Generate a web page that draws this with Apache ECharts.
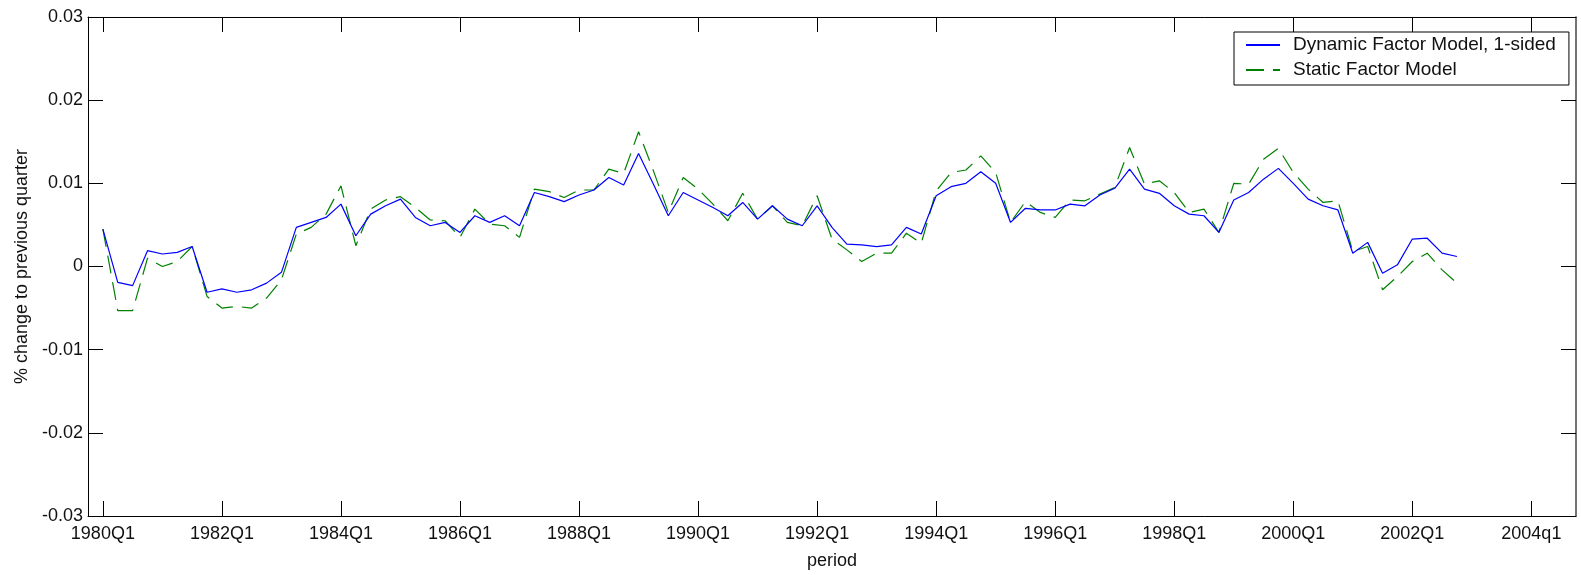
<!DOCTYPE html>
<html>
<head>
<meta charset="utf-8">
<script src="https://cdn.jsdelivr.net/npm/echarts@6/dist/echarts.min.js"></script>
<style>
  html, body { margin: 0; padding: 0; background: #fff; }
  #chart { width: 1581px; height: 575px; }
</style>
</head>
<body>
<div id="chart"></div>
<script>
// x positions: quarter index, 0 = 1980Q1
const tickPositions = [0, 8, 16, 24, 32, 40, 48, 56, 64, 72, 80, 88, 96];
const tickLabels = ['1980Q1', '1982Q1', '1984Q1', '1986Q1', '1988Q1', '1990Q1', '1992Q1',
                    '1994Q1', '1996Q1', '1998Q1', '2000Q1', '2002Q1', '2004q1'];

const dynamicFactor = [
  0.0045, -0.0019, -0.0023, 0.0019, 0.0015, 0.0017, 0.0024, -0.0031,
  -0.0027, -0.0031, -0.0028, -0.0020, -0.0007, 0.0047, 0.0053, 0.0059,
  0.0075, 0.0037, 0.0063, 0.0073, 0.0081, 0.0059, 0.0049, 0.0053,
  0.0041, 0.0061, 0.0053, 0.0061, 0.0049, 0.0089, 0.0084, 0.0078,
  0.0086, 0.0092, 0.0107, 0.0098, 0.0136, 0.0099, 0.0061, 0.0089,
  0.0080, 0.0071, 0.0061, 0.0077, 0.0057, 0.0073, 0.0057, 0.0049,
  0.0073, 0.0047, 0.0027, 0.0026, 0.0024, 0.0026, 0.0047, 0.0039,
  0.0085, 0.0096, 0.0100, 0.0114, 0.0100, 0.0053, 0.0070, 0.0068,
  0.0068, 0.0075, 0.0073, 0.0086, 0.0094, 0.0117, 0.0093, 0.0088,
  0.0073, 0.0063, 0.0061, 0.0041, 0.0080, 0.0089, 0.0105, 0.0118,
  0.0100, 0.0081, 0.0073, 0.0068, 0.0016, 0.0029, -0.0008, 0.0002,
  0.0033, 0.0034, 0.0016, 0.0012
];

const staticFactor = [
  0.0045, -0.0053, -0.0053, 0.0010, 0.0000, 0.0006, 0.0024, -0.0036,
  -0.0050, -0.0048, -0.0050, -0.0038, -0.0016, 0.0039, 0.0047, 0.0063,
  0.0097, 0.0025, 0.0069, 0.0080, 0.0084, 0.0071, 0.0056, 0.0055,
  0.0035, 0.0069, 0.0051, 0.0049, 0.0035, 0.0093, 0.0090, 0.0083,
  0.0092, 0.0092, 0.0117, 0.0112, 0.0162, 0.0115, 0.0065, 0.0107,
  0.0093, 0.0075, 0.0055, 0.0088, 0.0057, 0.0073, 0.0053, 0.0049,
  0.0085, 0.0033, 0.0020, 0.0006, 0.0016, 0.0016, 0.0040, 0.0028,
  0.0091, 0.0113, 0.0116, 0.0133, 0.0113, 0.0053, 0.0078, 0.0065,
  0.0059, 0.0080, 0.0079, 0.0087, 0.0095, 0.0143, 0.0099, 0.0103,
  0.0089, 0.0065, 0.0069, 0.0041, 0.0100, 0.0099, 0.0129, 0.0142,
  0.0113, 0.0093, 0.0077, 0.0079, 0.0018, 0.0024, -0.0028, -0.0012,
  0.0006, 0.0016, -0.0004, -0.0020
];

const seriesNames = ['Dynamic Factor Model, 1-sided', 'Static Factor Model'];

const FONT = '"Liberation Sans", Arial, sans-serif';
const TXT = '#111';

const chart = echarts.init(document.getElementById('chart'), null, { renderer: 'canvas' });

const xCommon = {
  type: 'value', min: -1, max: 99,
  splitLine: { show: false },
  axisLine: { show: true, onZero: false, lineStyle: { color: '#000', width: 1 } },
  axisTick: { show: true, inside: true, length: 15, customValues: tickPositions,
              lineStyle: { color: '#000', width: 1 } }
};
const yCommon = {
  type: 'value', min: -0.03, max: 0.03, interval: 0.01,
  splitLine: { show: false },
  axisLine: { show: true, onZero: false, lineStyle: { color: '#000', width: 1 } },
  axisTick: { show: true, inside: true, length: 15, lineStyle: { color: '#000', width: 1 } }
};

chart.setOption({
  animation: false,
  backgroundColor: '#fff',
  grid: { left: 88, right: 5, top: 17, bottom: 59, containLabel: false },
  legend: {
    orient: 'vertical',
    left: 1234, top: 32,
    padding: [3, 13, 5, 11],
    itemGap: 5,
    itemWidth: 34, itemHeight: 14,
    borderColor: '#000', borderWidth: 1, backgroundColor: '#fff',
    itemStyle: { opacity: 0 },
    textStyle: { fontFamily: FONT, fontSize: 19, color: TXT, lineHeight: 20, padding: [0, 0, 0, 8] },
    data: seriesNames
  },
  xAxis: [
    Object.assign({}, xCommon, {
      position: 'bottom',
      name: 'period', nameLocation: 'middle', nameGap: 36,
      nameTextStyle: { fontFamily: FONT, fontSize: 18, color: TXT },
      axisLabel: {
        show: true, customValues: tickPositions, margin: 9,
        fontFamily: FONT, fontSize: 18, color: TXT,
        formatter: function (v) { const k = tickPositions.indexOf(Math.round(v)); return k >= 0 ? tickLabels[k] : ''; }
      }
    }),
    Object.assign({}, xCommon, { position: 'top', axisLabel: { show: false } })
  ],
  yAxis: [
    Object.assign({}, yCommon, {
      position: 'left',
      name: '% change to previous quarter', nameLocation: 'middle', nameGap: 55, nameRotate: 90,
      nameTextStyle: { fontFamily: FONT, fontSize: 18, color: TXT },
      axisLabel: {
        show: true, margin: 5, fontFamily: FONT, fontSize: 18, color: TXT,
        formatter: function (v) { return String(Number(v.toFixed(2))); }
      }
    }),
    Object.assign({}, yCommon, { position: 'right', axisLabel: { show: false },
      axisLine: { show: true, onZero: false, lineStyle: { color: '#444', width: 1.5 } } })
  ],
  series: [
    {
      name: seriesNames[0], type: 'line', xAxisIndex: 0, yAxisIndex: 0,
      symbol: 'none', smooth: false,
      lineStyle: { color: '#0000ff', width: 1.2, type: 'solid' },
      itemStyle: { color: '#0000ff' },
      data: dynamicFactor.map(function (v, i) { return [i, v]; }),
      z: 3
    },
    {
      name: seriesNames[1], type: 'line', xAxisIndex: 0, yAxisIndex: 0,
      symbol: 'none', smooth: false,
      lineStyle: { color: '#008000', width: 1.2, type: [18, 9] },
      itemStyle: { color: '#008000' },
      data: staticFactor.map(function (v, i) { return [i, v]; }),
      z: 2
    }
  ]
});
</script>
</body>
</html>
